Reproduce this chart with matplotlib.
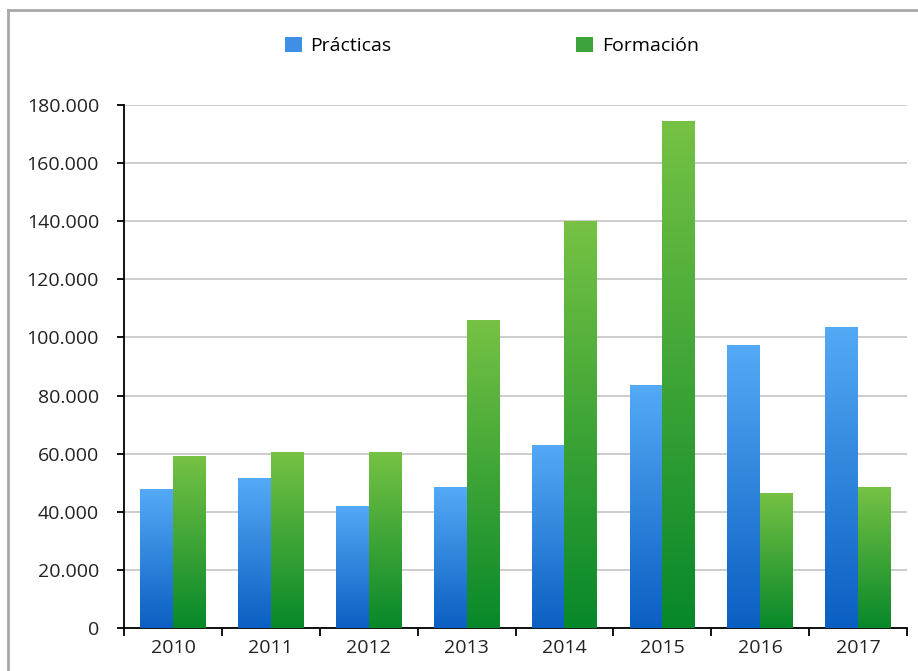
import matplotlib
matplotlib.use("Agg")
import matplotlib.pyplot as plt
import numpy as np
from matplotlib.colors import LinearSegmentedColormap
from matplotlib.patches import Patch
from matplotlib.lines import Line2D
from matplotlib.ticker import FuncFormatter, FixedLocator

years = ["2010", "2011", "2012", "2013", "2014", "2015", "2016", "2017"]
practicas = [47800, 51600, 42000, 48500, 63000, 83600, 97400, 103600]
formacion = [59200, 60600, 60600, 106000, 140000, 174500, 46500, 48500]
series_names = ["Prácticas", "Formación"]

plt.rcParams['font.family'] = ['Open Sans', 'DejaVu Sans']

fig = plt.figure(figsize=(9.18, 6.71), dpi=100)
ax = fig.add_axes([124/918, 1-628/671, (907-124)/918, (628-105)/671])

blue_cmap = LinearSegmentedColormap.from_list("b", ["#0a5fc2", "#55aaf6"])
green_cmap = LinearSegmentedColormap.from_list("g", ["#08882a", "#76c244"])

x = np.arange(len(years))
w = 0.335
bars_p = ax.bar(x - w/2, practicas, width=w, color="none", zorder=3)
bars_f = ax.bar(x + w/2, formacion, width=w, color="none", zorder=3)

grad = np.linspace(0, 1, 256).reshape(-1, 1)
for bars, cmap in ((bars_p, blue_cmap), (bars_f, green_cmap)):
    for b in bars:
        x0 = b.get_x(); x1 = x0 + b.get_width(); h = b.get_height()
        im = ax.imshow(grad, cmap=cmap, origin="lower", extent=(x0, x1, 0, h),
                       aspect="auto", zorder=3, interpolation="bilinear")
        im.set_clip_path(b)

ax.set_xlim(-0.5, len(years) - 0.5)
ax.set_ylim(0, 180000)
ax.set_yticks(np.arange(0, 180001, 20000))
ax.yaxis.set_major_formatter(FuncFormatter(lambda v, p: f"{int(v):,}".replace(",", ".")))
ax.set_xticks(x)
ax.set_xticklabels(years)
ax.xaxis.set_minor_locator(FixedLocator(np.arange(-0.5, len(years), 1.0)))
ax.tick_params(axis="x", which="major", length=0, pad=8, labelsize=14, colors="#222222")
ax.tick_params(axis="x", which="minor", length=6, width=1.3, direction="out", color="black")
ax.tick_params(axis="y", length=5, width=1.3, direction="out", labelsize=14, pad=13, labelcolor="#222222")

ax.grid(axis="y", color="#c4c4c4", linewidth=1.2, zorder=0)
ax.set_axisbelow(True)
for s in ("top", "right"):
    ax.spines[s].set_visible(False)
for s in ("left", "bottom"):
    ax.spines[s].set_linewidth(1.3)
    ax.spines[s].set_color("black")

handles = [Patch(facecolor="#3f8fe6", edgecolor="none"), Patch(facecolor="#3ea33a", edgecolor="none")]
fig.legend(handles, series_names, loc="center", bbox_to_anchor=(492/918, 1-46/671), ncol=2,
           frameon=False, fontsize=14, columnspacing=9.5, handlelength=0.85, handleheight=0.85,
           handletextpad=0.45)

fig.add_artist(Line2D([8/918, 8/918], [0, 1-10/671], transform=fig.transFigure, color="#a8a8a8", lw=2))
fig.add_artist(Line2D([8/918, 1], [1-10/671, 1-10/671], transform=fig.transFigure, color="#a8a8a8", lw=2))

fig.savefig("out.png", dpi=100)
